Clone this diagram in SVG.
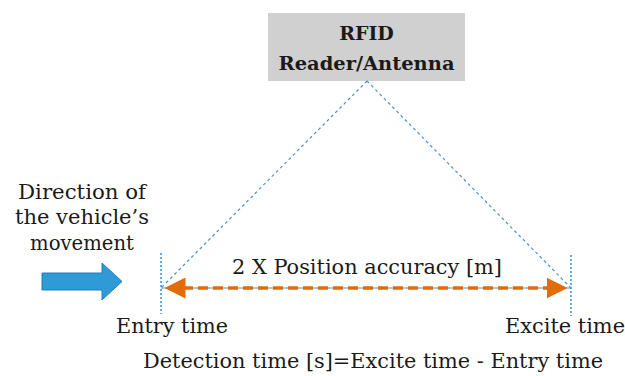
<svg xmlns="http://www.w3.org/2000/svg" width="625" height="376" viewBox="0 0 625 376">
<defs>
<style>
.t{font-family:"DejaVu Serif","Liberation Serif",serif;font-size:20px;fill:#1a1a1a}
.b{font-family:"DejaVu Serif","Liberation Serif",serif;font-size:19px;font-weight:bold;fill:#1a1a1a}
.tri{stroke:#4a90c8;stroke-width:1.2;stroke-dasharray:3 3;fill:none}
.vd{stroke:#3a9ad9;stroke-width:1.6;stroke-dasharray:2 2;fill:none}
.or{stroke:#e36c0a;stroke-width:3.5;stroke-dasharray:10 5;fill:none}
</style>
<marker id="ah" markerWidth="6" markerHeight="6" refX="5" refY="3" orient="auto-start-reverse" markerUnits="strokeWidth">
<path d="M0,0 L6,3 L0,6 Z" fill="#e36c0a"/>
</marker>
</defs>
<rect width="625" height="376" fill="#fff"/>
<g id="reader">
<rect x="268" y="13" width="197" height="68" fill="#d0d0d0"/>
<text class="b" x="366.5" y="40" text-anchor="middle">RFID</text>
<text class="b" x="366.5" y="70" text-anchor="middle" textLength="176" lengthAdjust="spacingAndGlyphs">Reader/Antenna</text>
</g>
<g id="connectors">
<path class="tri" d="M367,81 L161,288 M367,81 L571,288"/>
<line x1="161" y1="288" x2="571" y2="288" stroke="#4a90c8" stroke-width="1"/>
<line class="vd" x1="161" y1="253" x2="161" y2="314"/>
<line class="vd" x1="571" y1="255" x2="571" y2="316"/>
<line class="or" x1="168" y1="288" x2="564" y2="288" marker-start="url(#ah)" marker-end="url(#ah)"/>
</g>
<g id="vehicle-arrow">
<path d="M42,273 L102,273 L102,263 L122,281.5 L102,300 L102,290 L42,290 Z" fill="#2e9bd6" stroke="#1f7fb8" stroke-width="1"/>
</g>
<g id="direction-label">
<text class="t" x="82" y="199" text-anchor="middle" textLength="128" lengthAdjust="spacingAndGlyphs">Direction of</text>
<text class="t" x="82" y="224" text-anchor="middle" textLength="134" lengthAdjust="spacingAndGlyphs">the vehicle’s</text>
<text class="t" x="82" y="250" text-anchor="middle" textLength="104" lengthAdjust="spacingAndGlyphs">movement</text>
</g>
<g id="accuracy-label">
<text class="t" x="367" y="274" text-anchor="middle" textLength="270" lengthAdjust="spacingAndGlyphs">2 X Position accuracy [m]</text>
</g>
<g id="entry">
<text class="t" x="172" y="333" text-anchor="middle" textLength="112" lengthAdjust="spacingAndGlyphs">Entry time</text>
</g>
<g id="excite">
<text class="t" x="565" y="333" text-anchor="middle" textLength="120" lengthAdjust="spacingAndGlyphs">Excite time</text>
</g>
<g id="formula">
<text class="t" x="373" y="368" text-anchor="middle" textLength="460" lengthAdjust="spacingAndGlyphs">Detection time [s]=Excite time - Entry time</text>
</g>
</svg>
